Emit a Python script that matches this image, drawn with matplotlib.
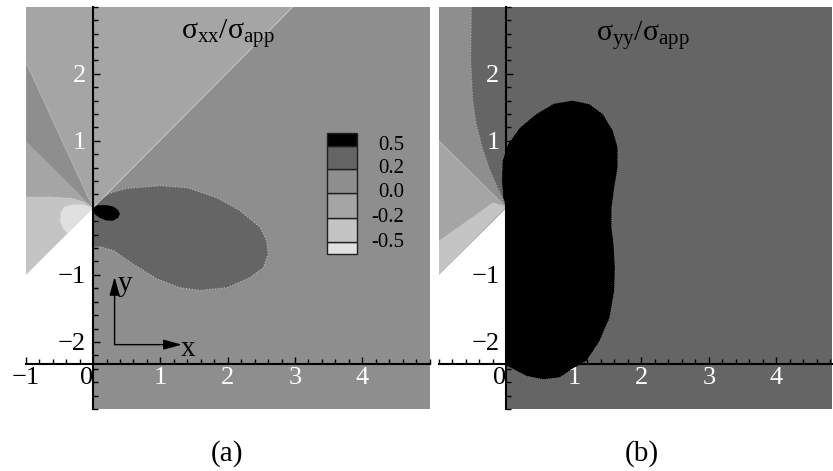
import matplotlib
matplotlib.use("Agg")
import matplotlib.pyplot as plt
from matplotlib.patches import Polygon, Rectangle
from matplotlib.ticker import MultipleLocator, FixedLocator

plt.rcParams["font.family"] = "Liberation Serif"
plt.rcParams["mathtext.fontset"] = "custom"
plt.rcParams["mathtext.rm"] = "Liberation Serif"
plt.rcParams["mathtext.it"] = "Liberation Serif:italic"

# grey bands, lowest to highest: < -0.5, -0.5..-0.2, -0.2..0, 0..0.2, 0.2..0.5, > 0.5
band_colors = ["#e0e0e0", "#c4c4c4", "#a5a5a5", "#8e8e8e", "#656565", "#000000"]
level_labels = ["-0.5", "-0.2", "0.0", "0.2", "0.5"]

# notch flanks: y = x for x < 0, x = 0 for y < 0
notch_x = [0.0, -1.0, -1.0, 0.0]
notch_y = [0.0, -1.0, -3.0, -3.0]

# (a) sigma_xx / sigma_app -- band outlines
xx_neg_sector_x = [0.0, 2.97, -1.0, -1.0]
xx_neg_sector_y = [0.0, 3.0, 3.0, -1.0]
xx_pos_wedge_x = [0.0, -1.0, -1.0]
xx_pos_wedge_y = [0.0, 2.18, 1.0]
xx_band_x = [0.0, -0.12, -0.3, -0.6, -1.0, -1.0]
xx_band_y = [0.0, 0.08, 0.14, 0.16, 0.16, -1.0]
xx_low_x = [0.0, -0.15, -0.3, -0.42, -0.48, -0.49, -0.45, -0.38, -0.3]
xx_low_y = [0.0, 0.05, 0.05, 0.02, -0.06, -0.2, -0.3, -0.38, -0.3]
xx_lobe_x = [0.0, 0.1, 0.25, 0.5, 1.0, 1.4, 1.84, 2.18, 2.48, 2.58, 2.6, 2.53,
             2.33, 1.99, 1.59, 1.29, 0.95, 0.6, 0.31, 0.11, 0.0]
xx_lobe_y = [0.0, 0.12, 0.22, 0.29, 0.33, 0.3, 0.15, -0.04, -0.29, -0.49, -0.69,
             -0.89, -1.04, -1.19, -1.23, -1.19, -1.06, -0.84, -0.64, -0.58, -0.59]
xx_peak_x = [0.0, 0.08, 0.2, 0.3, 0.37, 0.4, 0.37, 0.3, 0.2, 0.1, 0.03, 0.0]
xx_peak_y = [0.02, 0.04, 0.04, 0.02, -0.03, -0.09, -0.15, -0.19, -0.19, -0.15, -0.1, -0.07]

# (b) sigma_yy / sigma_app
yy_mid_x = [0.0, -0.12, -0.25, -0.36, -0.45, -0.5, -0.53, -0.52, -1.0, -1.0]
yy_mid_y = [0.0, 0.27, 0.57, 0.9, 1.25, 1.6, 2.2, 3.0, 3.0, 1.0]
yy_neg_x = [0.0, -1.0, -1.0]
yy_neg_y = [0.0, 1.0, -1.0]
yy_band_x = [0.0, -0.2, -1.0, -1.0]
yy_band_y = [0.02, 0.08, -0.49, -1.0]
yy_peak_x = [0.99, 1.23, 1.43, 1.58, 1.65, 1.65, 1.6, 1.56, 1.56, 1.59, 1.61, 1.6,
             1.53, 1.38, 1.19, 0.94, 0.79, 0.54, 0.3, 0.05, 0.0, 0.0, -0.05, -0.07,
             -0.06, 0.02, 0.2, 0.44, 0.69]
yy_peak_y = [1.6, 1.55, 1.4, 1.15, 0.9, 0.6, 0.3, 0.0, -0.29, -0.54, -0.89, -1.24,
             -1.64, -1.99, -2.28, -2.43, -2.53, -2.56, -2.51, -2.38, -2.36, 0.0, 0.15,
             0.4, 0.7, 0.95, 1.2, 1.4, 1.55]

XAXIS_Y = -2.33
FS = 19


def region(ax, xs, ys, color, edge=None, ls="-"):
    ax.add_patch(Polygon(list(zip(xs, ys)), closed=True, facecolor=color,
                         edgecolor="none", zorder=1))
    if edge is not None:
        ax.plot(xs, ys, color=edge, lw=0.7, ls=ls, zorder=1.1)


def setup_axes(ax, xmax, xlabels, white_x, white_y):
    ax.set_xlim(-1, xmax)
    ax.set_ylim(-3, 3)
    ax.set_facecolor("white")
    for s in ["top", "right"]:
        ax.spines[s].set_visible(False)
    ax.spines["left"].set_position(("data", 0))
    ax.spines["bottom"].set_position(("data", XAXIS_Y))
    ax.spines["left"].set_linewidth(1.5)
    ax.spines["bottom"].set_linewidth(1.5)
    ax.xaxis.set_major_locator(FixedLocator(xlabels))
    ax.xaxis.set_minor_locator(MultipleLocator(0.2))
    ax.yaxis.set_major_locator(FixedLocator([-2, -1, 1, 2]))
    ax.yaxis.set_minor_locator(MultipleLocator(0.2))
    ax.tick_params(which="major", direction="in", length=5.3, width=1,
                   labelsize=FS)
    ax.tick_params(which="minor", direction="in", length=3.4, width=1)
    ax.tick_params(axis="y", pad=5)
    ax.tick_params(axis="x", pad=2)
    ax.figure.canvas.draw()
    for lab, v in zip(ax.get_xticklabels(), xlabels):
        lab.set_color("white" if v in white_x else "black")
        if v == 0:
            lab.set_ha("right")
    for lab, v in zip(ax.get_yticklabels(), [-2, -1, 1, 2]):
        lab.set_color("white" if v in white_y else "black")


fig = plt.figure(figsize=(8.33, 4.71), dpi=100)
axa = fig.add_axes([0.0309, 0.1316, 0.4848, 0.8542])
axb = fig.add_axes([0.527, 0.1316, 0.4714, 0.8542])

# ---- (a)
axa.add_patch(Rectangle((-1, -3), 6, 6, facecolor=band_colors[3], zorder=0.5))
region(axa, xx_neg_sector_x, xx_neg_sector_y, band_colors[2])
axa.plot(xx_neg_sector_x[:2], xx_neg_sector_y[:2], color="#c8c8c8", lw=0.7, zorder=1.1)
region(axa, xx_pos_wedge_x, xx_pos_wedge_y, band_colors[3], edge="#b4b4b4")
region(axa, xx_band_x, xx_band_y, band_colors[1])
axa.plot(xx_band_x[:5], xx_band_y[:5], color="#d8d8d8", lw=0.7, ls=":", zorder=1.1)
region(axa, xx_low_x, xx_low_y, band_colors[0])
region(axa, xx_lobe_x, xx_lobe_y, band_colors[4])
axa.plot(xx_lobe_x, xx_lobe_y, color="#b8b8b8", lw=0.8, ls=":", zorder=1.1)
region(axa, xx_peak_x, xx_peak_y, band_colors[5])
region(axa, notch_x, notch_y, "white")

axa.text(2.0, 2.6, r"$\mathrm{\sigma_{xx}/\sigma_{app}}$", fontsize=21.5,
         ha="center", va="center", zorder=3)

# legend of contour bands
edges = [0.385, 0.415, 0.475, 0.537, 0.597, 0.654, 0.686]
for i, c in enumerate(band_colors):
    axa.add_patch(Rectangle((0.745, edges[i]), 0.076, edges[i + 1] - edges[i],
                            transform=axa.transAxes, facecolor=c,
                            edgecolor="#202020", lw=1, zorder=3))
for i, t in enumerate(level_labels):
    axa.text(0.937, edges[i + 1], t, transform=axa.transAxes, fontsize=15,
             ha="right", va="center", zorder=3)

# coordinate frame
axa.annotate("", xy=(0.32, -1.03), xytext=(0.32, -2.04),
             arrowprops=dict(arrowstyle="-|>,head_length=0.8,head_width=0.22",
                             color="black", lw=1, mutation_scale=14,
                             shrinkA=0, shrinkB=0), zorder=3)
axa.annotate("", xy=(1.32, -2.04), xytext=(0.32, -2.04),
             arrowprops=dict(arrowstyle="-|>,head_length=0.8,head_width=0.22",
                             color="black", lw=1, mutation_scale=14,
                             shrinkA=0, shrinkB=0), zorder=3)
axa.text(0.47, -1.13, "y", fontsize=21, ha="center", va="center", zorder=3)
axa.text(1.41, -2.1, "x", fontsize=21, ha="center", va="center", zorder=3)

setup_axes(axa, 5.0, [-1, 0, 1, 2, 3, 4], [1, 2, 3, 4], [1, 2])

# ---- (b)
axb.add_patch(Rectangle((-1, -3), 6, 6, facecolor=band_colors[4], zorder=0.5))
region(axb, yy_mid_x, yy_mid_y, band_colors[3])
axb.plot(yy_mid_x[:8], yy_mid_y[:8], color="#a8a8a8", lw=0.8, ls=":", zorder=1.1)
region(axb, yy_neg_x, yy_neg_y, band_colors[2])
axb.plot(yy_neg_x[:2], yy_neg_y[:2], color="#b8b8b8", lw=0.7, zorder=1.1)
region(axb, yy_band_x, yy_band_y, band_colors[1])
region(axb, yy_peak_x, yy_peak_y, band_colors[5])
axb.plot(yy_peak_x, yy_peak_y, color="#909090", lw=0.6, ls=":", zorder=1.1)
region(axb, notch_x, notch_y, "white")

axb.text(2.02, 2.57, r"$\mathrm{\sigma_{yy}/\sigma_{app}}$", fontsize=21.5,
         ha="center", va="center", zorder=3)

setup_axes(axb, 4.82, [0, 1, 2, 3, 4], [1, 2, 3, 4], [1, 2])

fig.text(0.2725, 0.038, "(a)", fontsize=21, ha="center", va="center")
fig.text(0.77, 0.038, "(b)", fontsize=21, ha="center", va="center")

fig.savefig("out.png", dpi=100)
